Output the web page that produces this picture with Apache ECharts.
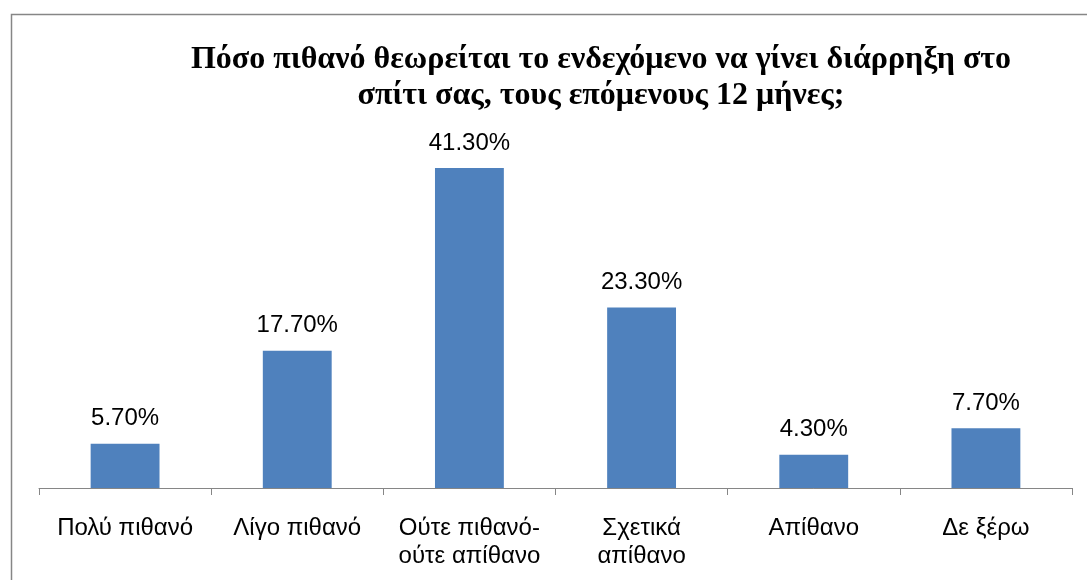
<!DOCTYPE html>
<html>
<head>
<meta charset="utf-8">
<script src="https://cdn.jsdelivr.net/npm/echarts@6/dist/echarts.min.js"></script>
<style>
html,body{margin:0;padding:0;background:#fff;}
#c{width:1087px;height:580px;}
</style>
</head>
<body>
<div id="c"></div>
<script>
const titleText = 'Πόσο πιθανό θεωρείται το ενδεχόμενο να γίνει διάρρηξη στο\nσπίτι σας, τους επόμενους 12 μήνες;';
const categories = ['Πολύ πιθανό', 'Λίγο πιθανό', 'Ούτε πιθανό-\nούτε απίθανο', 'Σχετικά\nαπίθανο', 'Απίθανο', 'Δε ξέρω'];
const values = [5.7, 17.7, 41.3, 23.3, 4.3, 7.7];

const chart = echarts.init(document.getElementById('c'), null, {renderer: 'canvas'});
chart.setOption({
  animation: false,
  backgroundColor: '#ffffff',
  graphic: [{
    type: 'rect',
    left: 9, top: 12,
    shape: {width: 1200, height: 700},
    style: {fill: 'none', stroke: '#868686', lineWidth: 1.5},
    silent: true
  }],
  title: {
    text: titleText,
    left: 596,
    top: 37,
    textAlign: 'center',
    textStyle: {
      fontFamily: 'Liberation Serif',
      fontWeight: 'bold',
      fontSize: 32,
      lineHeight: 36,
      color: '#000'
    }
  },
  grid: {left: 39, right: 15, top: 100.5, bottom: 92, containLabel: false},
  xAxis: {
    type: 'category',
    data: categories,
    axisLine: {lineStyle: {color: '#868686', width: 1}},
    axisTick: {show: true, length: 7, lineStyle: {color: '#868686'}},
    axisLabel: {
      interval: 0,
      margin: 26,
      fontFamily: 'Liberation Sans',
      fontSize: 24,
      lineHeight: 28,
      color: '#000'
    }
  },
  yAxis: {
    type: 'value',
    min: 0, max: 50,
    show: false,
    splitLine: {show: false}
  },
  series: [{
    type: 'bar',
    data: values,
    barWidth: '40%',
    itemStyle: {color: '#4F81BD'},
    label: {
      show: true,
      position: 'top',
      distance: 13,
      formatter: p => p.value.toFixed(2) + '%',
      fontFamily: 'Liberation Sans',
      fontSize: 24,
      color: '#000'
    }
  }]
});
</script>
</body>
</html>
